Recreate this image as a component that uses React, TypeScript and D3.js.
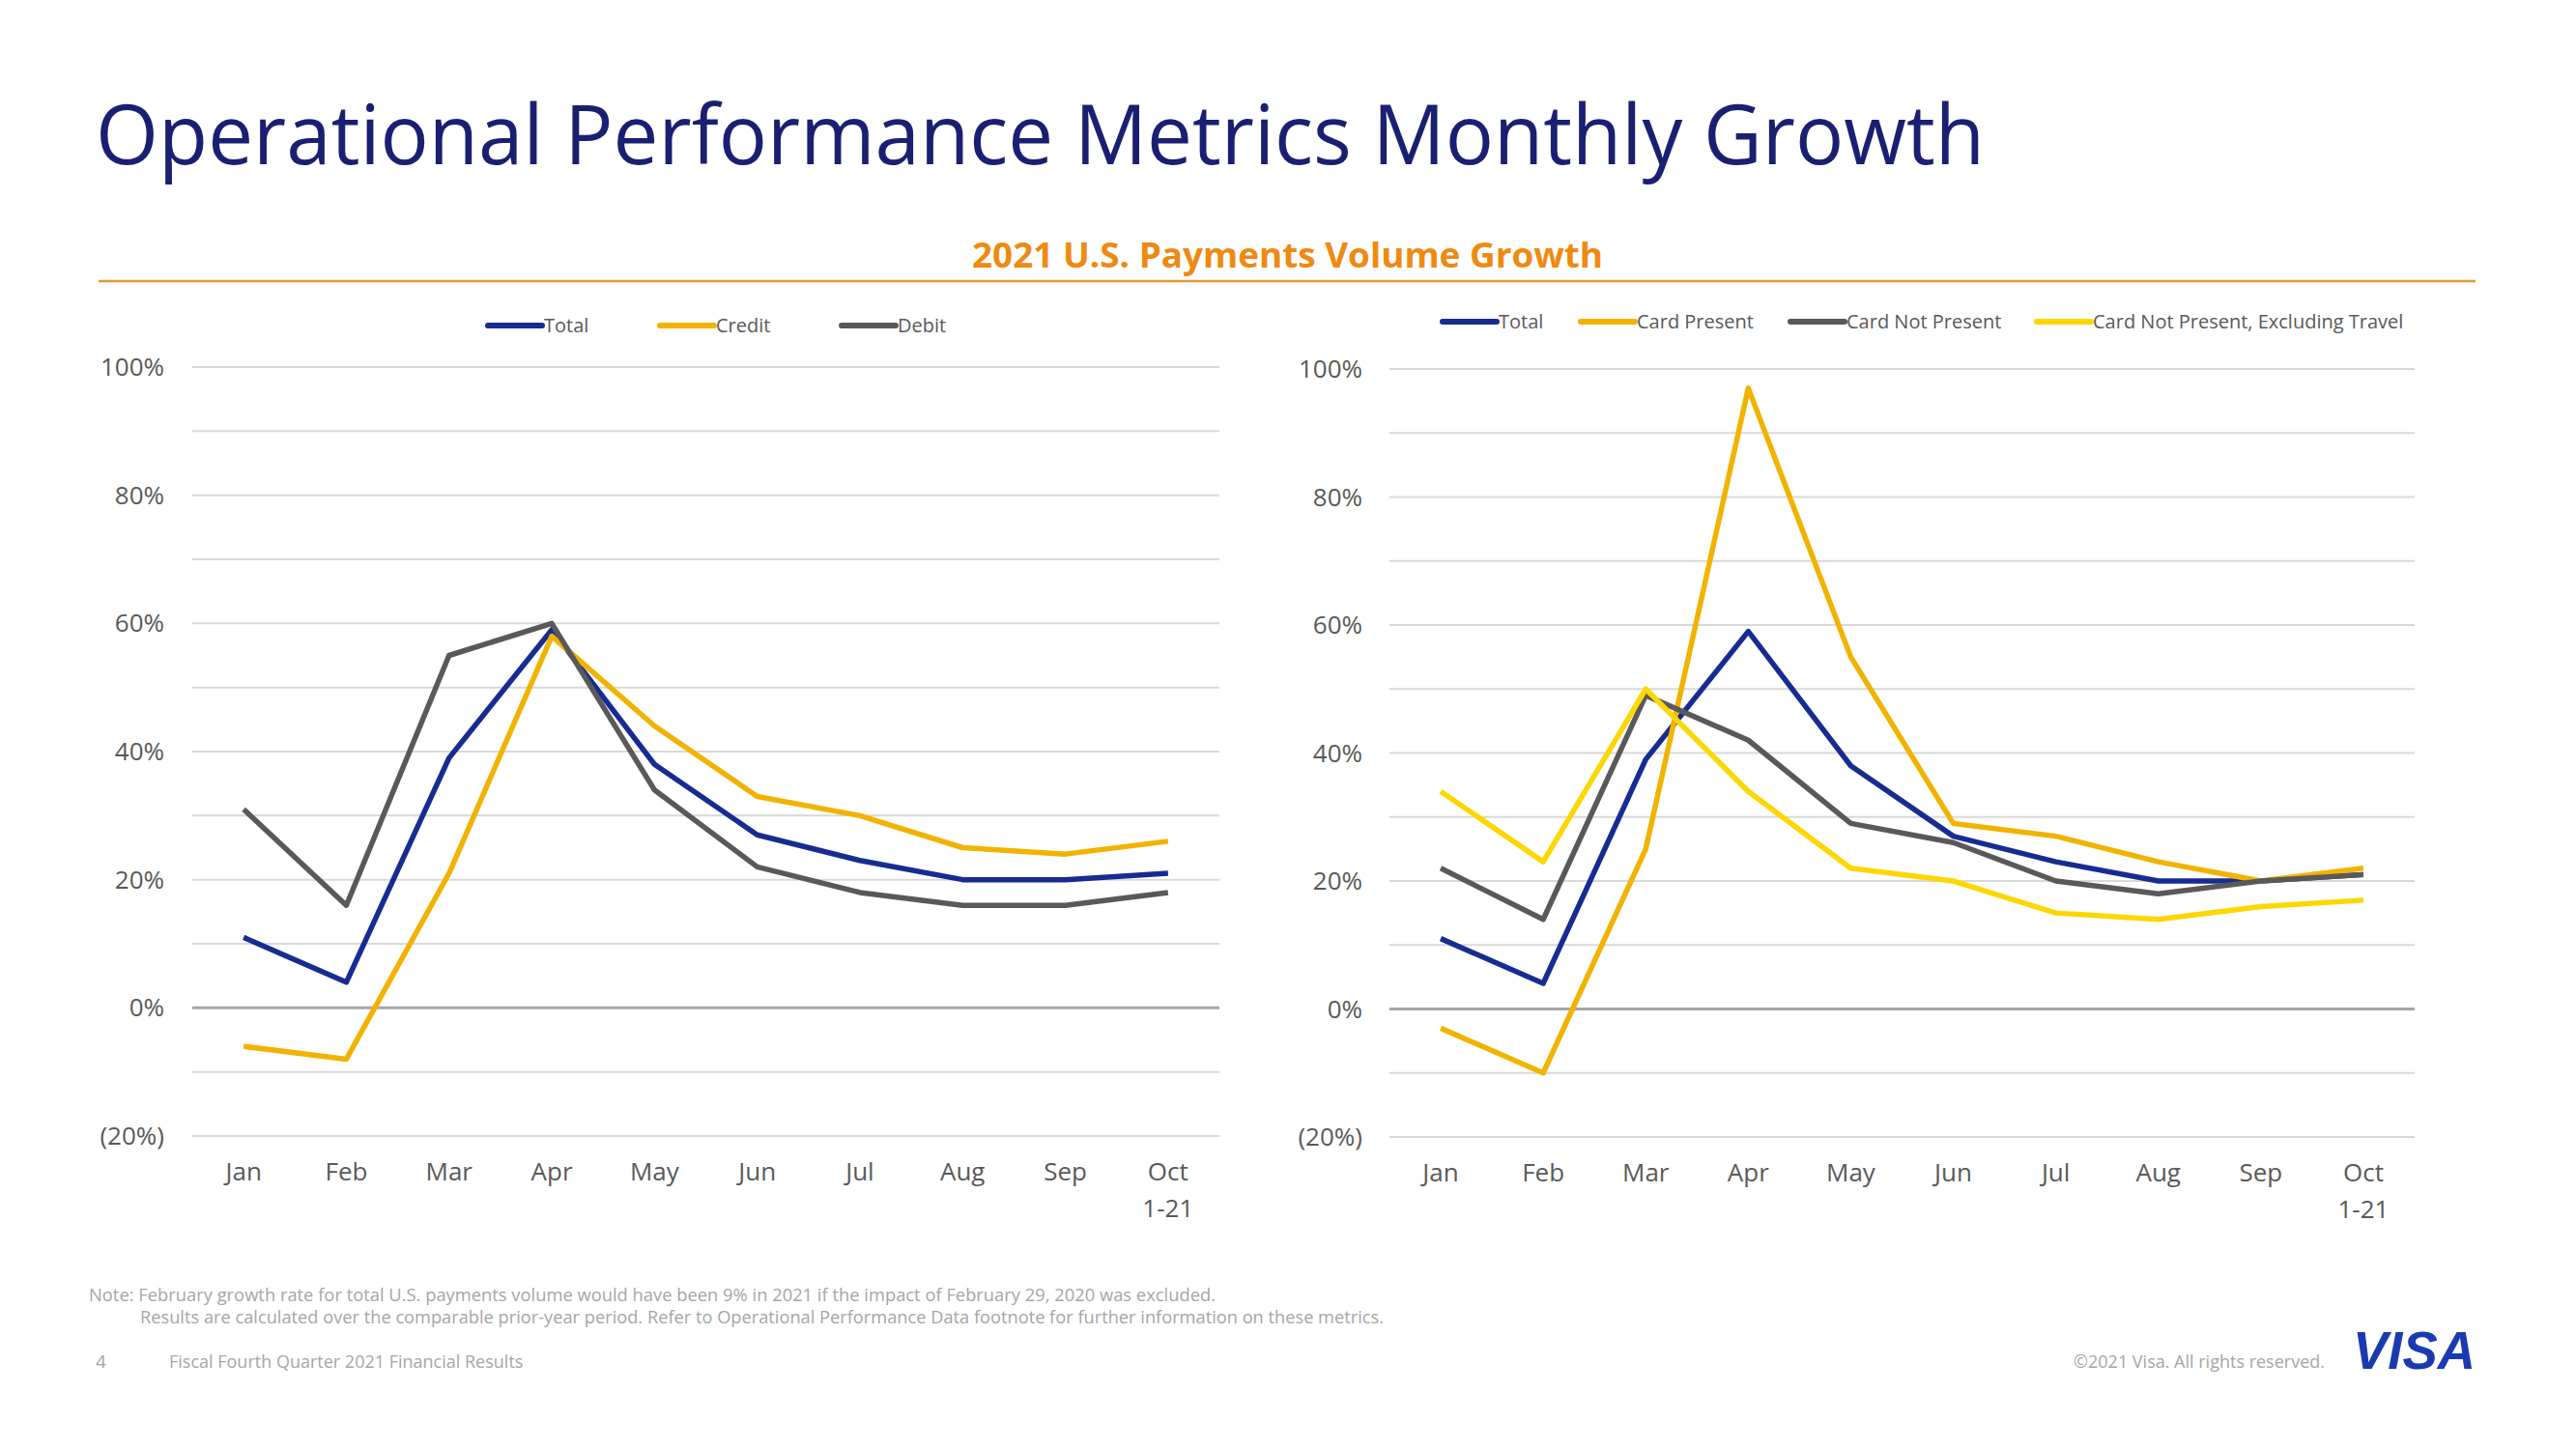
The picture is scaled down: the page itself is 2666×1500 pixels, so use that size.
import React from "react";
import * as d3 from "d3";

const months = ["Jan", "Feb", "Mar", "Apr", "May", "Jun", "Jul", "Aug", "Sep", "Oct"];
const monthSub = ["", "", "", "", "", "", "", "", "", "1-21"];
const yTicks = [100, 80, 60, 40, 20, 0, -20];
const gridValues = [100, 90, 80, 70, 60, 50, 40, 30, 20, 10, 0, -10, -20];

const leftTotal = [11, 4, 39, 59, 38, 27, 23, 20, 20, 21];
const leftCredit = [-6, -8, 21, 58, 44, 33, 30, 25, 24, 26];
const leftDebit = [31, 16, 55, 60, 34, 22, 18, 16, 16, 18];

const rightTotal = [11, 4, 39, 59, 38, 27, 23, 20, 20, 21];
const rightCardPresent = [-3, -10, 25, 97, 55, 29, 27, 23, 20, 22];
const rightCNP = [22, 14, 49, 42, 29, 26, 20, 18, 20, 21];
const rightCNPExTravel = [34, 23, 50, 34, 22, 20, 15, 14, 16, 17];

const BLUE = "#172C91";
const GOLD = "#F2B300";
const GRAY = "#595959";
const YELLOW = "#FDD700";

const FONT = "'Open Sans', 'Noto Sans', sans-serif";

type Series = { name: string; values: number[]; color: string };

const leftSeries: Series[] = [
  { name: "Total", values: leftTotal, color: BLUE },
  { name: "Credit", values: leftCredit, color: GOLD },
  { name: "Debit", values: leftDebit, color: GRAY },
];
const rightSeries: Series[] = [
  { name: "Total", values: rightTotal, color: BLUE },
  { name: "Card Present", values: rightCardPresent, color: GOLD },
  { name: "Card Not Present", values: rightCNP, color: GRAY },
  { name: "Card Not Present, Excluding Travel", values: rightCNPExTravel, color: YELLOW },
];

function fmtPct(v: number) {
  return v < 0 ? `(${Math.abs(v)}%)` : `${v}%`;
}

function Chart(props: {
  x0: number;
  x1: number;
  yTop: number;
  yBot: number;
  labelX: number;
  series: Series[];
  legendX: number[];
  legendY: number;
}) {
  const { x0, x1, yTop, yBot, labelX, series, legendX, legendY } = props;
  const x = d3.scaleBand<string>().domain(months).range([x0, x1]).padding(0);
  const y = d3.scaleLinear().domain([-20, 100]).range([yBot, yTop]);
  const line = d3
    .line<number>()
    .x((_, i) => (x(months[i]) as number) + x.bandwidth() / 2)
    .y((d) => y(d));
  return (
    <g>
      {gridValues.map((g) => (
        <line
          key={g}
          x1={x0}
          x2={x1}
          y1={y(g)}
          y2={y(g)}
          stroke={g === 0 ? "#A6A6A6" : "#D9D9D9"}
          strokeWidth={g === 0 ? 3 : 2}
        />
      ))}
      {yTicks.map((t) => (
        <text
          key={t}
          x={labelX}
          y={y(t) + 9}
          textAnchor="end"
          fontSize={26}
          fill={GRAY}
          fontFamily={FONT}
        >
          {fmtPct(t)}
        </text>
      ))}
      {months.map((m, i) => (
        <g key={m}>
          <text
            x={(x(m) as number) + x.bandwidth() / 2}
            y={yBot + 46}
            textAnchor="middle"
            fontSize={26}
            fill={GRAY}
            fontFamily={FONT}
          >
            {m}
          </text>
          {monthSub[i] && (
            <text
              x={(x(m) as number) + x.bandwidth() / 2}
              y={yBot + 84}
              textAnchor="middle"
              fontSize={26}
              fill={GRAY}
              fontFamily={FONT}
            >
              {monthSub[i]}
            </text>
          )}
        </g>
      ))}
      {series.map((s) => (
        <path
          key={s.name}
          d={line(s.values) || ""}
          fill="none"
          stroke={s.color}
          strokeWidth={5.5}
          strokeLinejoin="round"
        />
      ))}
      {series.map((s, i) => (
        <g key={"lg" + s.name}>
          <line
            x1={legendX[i]}
            x2={legendX[i] + 56}
            y1={legendY}
            y2={legendY}
            stroke={s.color}
            strokeWidth={6}
            strokeLinecap="round"
          />
          <text
            x={legendX[i] + 58}
            y={legendY + 7}
            fontSize={20}
            fill={GRAY}
            fontFamily={FONT}
          >
            {s.name}
          </text>
        </g>
      ))}
    </g>
  );
}

export default function App() {
  return (
    <svg
      width={2666}
      height={1500}
      style={{ position: "absolute", left: 0, top: 0, background: "#fff" }}
    >
      <rect width={2666} height={1500} fill="#fff" />
      <text
        x={99}
        y={170}
        fontSize={86}
        fill="#1A1F71"
        fontFamily={FONT}
        textLength={1955}
        lengthAdjust="spacingAndGlyphs"
      >
        Operational Performance Metrics Monthly Growth
      </text>
      <text
        x={1006}
        y={277}
        fontSize={36}
        fontWeight={700}
        fill="#EE8A12"
        fontFamily={FONT}
        textLength={653}
        lengthAdjust="spacingAndGlyphs"
      >
        2021 U.S. Payments Volume Growth
      </text>
      <line x1={102} x2={2562} y1={291} y2={291} stroke="#E3982F" strokeWidth={2.5} />

      <Chart
        x0={199}
        x1={1262}
        yTop={380}
        yBot={1176}
        labelX={170}
        series={leftSeries}
        legendX={[505, 683, 871]}
        legendY={337}
      />
      <Chart
        x0={1438}
        x1={2499}
        yTop={382}
        yBot={1177}
        labelX={1410}
        series={rightSeries}
        legendX={[1493, 1636, 1853, 2108]}
        legendY={333}
      />

      <text x={92} y={1347} fontSize={18} fill="#A6A6A6" fontFamily={FONT} textLength={1166} lengthAdjust="spacingAndGlyphs">
        Note: February growth rate for total U.S. payments volume would have been 9% in 2021 if the impact of February 29, 2020 was excluded.
      </text>
      <text x={145} y={1370} fontSize={18} fill="#A6A6A6" fontFamily={FONT} textLength={1287} lengthAdjust="spacingAndGlyphs">
        Results are calculated over the comparable prior-year period. Refer to Operational Performance Data footnote for further information on these metrics.
      </text>
      <text x={99} y={1416} fontSize={19} fill="#A6A6A6" fontFamily={FONT}>
        4
      </text>
      <text x={175} y={1416} fontSize={18} fill="#A6A6A6" fontFamily={FONT}>
        Fiscal Fourth Quarter 2021 Financial Results
      </text>
      <text x={2406} y={1416} fontSize={18} fill="#A6A6A6" fontFamily={FONT} textAnchor="end">
        ©2021 Visa. All rights reserved.
      </text>
      <text
        x={2435}
        y={1417}
        fontSize={56}
        fontWeight={900}
        fontStyle="italic"
        fill="#1A3BB0"
        fontFamily="'Liberation Sans', Arial, sans-serif"
        textLength={127}
        lengthAdjust="spacingAndGlyphs"
      >
        VISA
      </text>
    </svg>
  );
}
